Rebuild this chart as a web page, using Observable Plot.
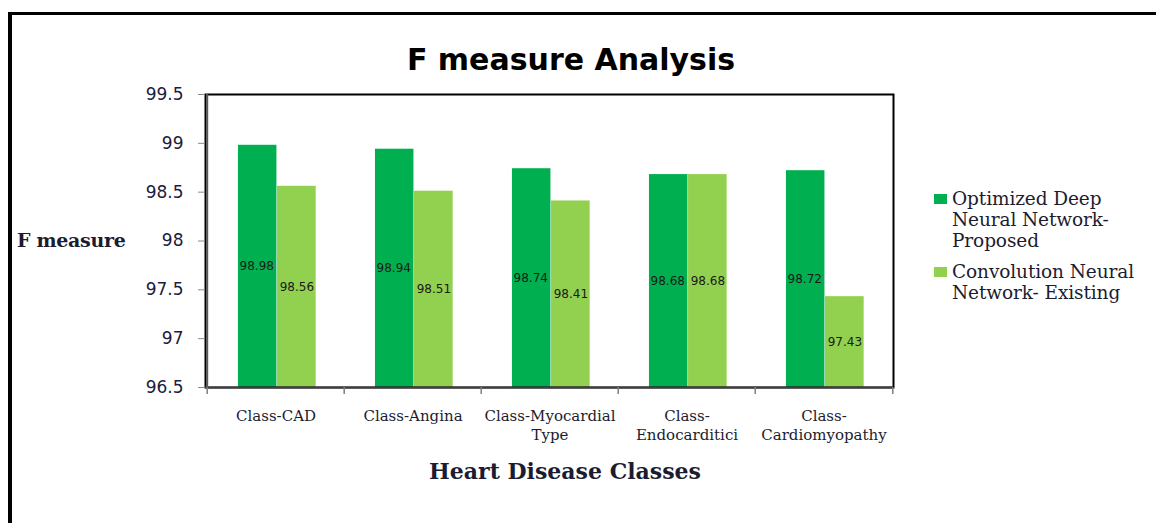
<!DOCTYPE html>
<html><head><meta charset="utf-8">
<script src="https://cdn.jsdelivr.net/npm/d3@7"></script>
<script src="https://cdn.jsdelivr.net/npm/@observablehq/plot@0.6"></script>
<style>
html,body{margin:0;padding:0;background:#fff;}
#wrap{position:relative;width:1156px;height:523px;overflow:hidden;}
#wrap svg{position:absolute;left:0;top:0;}
#border{position:absolute;left:8px;top:12px;width:1160px;height:520px;border-left:4px solid #000;border-top:3px solid #000;box-sizing:border-box;}
.title{position:absolute;left:0;width:1142px;top:42px;text-align:center;font:bold 30px "DejaVu Sans";color:#000;}
.ylab{position:absolute;left:17px;top:229px;font:bold 19px "DejaVu Serif";color:#1c1c30;white-space:nowrap;letter-spacing:-0.3px;}
.xlab{position:absolute;left:0;width:1130px;top:458px;text-align:center;font:bold 22px "DejaVu Serif";color:#1c1c30;}
.legend{position:absolute;left:934px;top:188px;font:18.5px "DejaVu Serif";color:#1c1c30;line-height:21px;letter-spacing:-0.1px;}
.item{display:flex;align-items:flex-start;margin-bottom:10px;}
.sw{width:13px;height:10px;margin-top:6px;margin-right:5px;flex:none;}
</style></head>
<body>
<div id="wrap"><div id="border"></div></div>
<script>
const categories = ["Class-CAD","Class-Angina","Class-Myocardial\nType","Class-\nEndocarditici","Class-\nCardiomyopathy"];
const proposed = [98.98, 98.94, 98.74, 98.68, 98.72];
const existing = [98.56, 98.51, 98.41, 98.68, 97.43];
const seriesNames = ["Optimized Deep\nNeural Network-\nProposed", "Convolution Neural\nNetwork- Existing"];
const colors = ["#00B050", "#92D050"];
const yTicks = [96.5, 97, 97.5, 98, 98.5, 99, 99.5];
const titleText = "F measure Analysis";
const yTitle = "F measure";
const xTitle = "Heart Disease Classes";

const W = 1156, H = 523, ml = 205, mr = 263, mt = 94, mb = 136;
const bw = (W - ml - mr) / categories.length;
const yMin = yTicks[0], yMax = yTicks[yTicks.length - 1];
const rows = categories.map((c, i) => ({cat: c, p: proposed[i], e: existing[i]}));

const chart = Plot.plot({
  width: W, height: H,
  marginLeft: ml, marginRight: mr, marginTop: mt, marginBottom: mb,
  style: {background: "transparent", fontFamily: "DejaVu Sans", overflow: "visible"},
  x: {domain: categories, padding: 0},
  y: {domain: [yMin, yMax]},
  marks: [
    Plot.barY(rows, {x: "cat", y1: yMin, y2: "p", fill: colors[0], insetLeft: 0.225 * bw, insetRight: 0.491 * bw}),
    Plot.barY(rows, {x: "cat", y1: yMin, y2: "e", fill: colors[1], insetLeft: 0.509 * bw, insetRight: 0.206 * bw}),
    Plot.text(rows, {x: "cat", y: d => (yMin + d.p) / 2, text: d => d.p.toFixed(2), dx: -0.14 * bw, fontSize: 12, fill: "#1a1a1a", fontFamily: "DejaVu Sans"}),
    Plot.text(rows, {x: "cat", y: d => (yMin + d.e) / 2, text: d => d.e.toFixed(2), dx: 0.1515 * bw, fontSize: 12, fill: "#1a1a1a", fontFamily: "DejaVu Sans"}),
    Plot.frame({stroke: "#000", strokeWidth: 2}),
    Plot.ruleY([yMin], {stroke: "#404040", strokeWidth: 2}),
    Plot.ruleX([categories[0]], {x: d => d, dx: -bw / 2, stroke: "#595959", strokeWidth: 2}),
    Plot.ruleX(categories, {x: d => d, y1: yMin, y2: yMin, insetBottom: -7, dx: -bw / 2, stroke: "#7f7f7f", strokeWidth: 1.5}),
    Plot.ruleX([categories[categories.length - 1]], {x: d => d, y1: yMin, y2: yMin, insetBottom: -7, dx: bw / 2, stroke: "#7f7f7f", strokeWidth: 1.5}),
    Plot.axisY({ticks: yTicks, tickFormat: d => String(d), tickSize: 7, tickPadding: 15, fontSize: 17, fontFamily: "DejaVu Sans", stroke: "#8a8a8a", fill: "#1c1c3c", label: null}),
    Plot.axisX({tickSize: 0, tickPadding: 20, fontSize: 15, fontFamily: "DejaVu Serif", fill: "#1c1c30", lineHeight: 1.25, label: null})
  ]
});
const wrap = document.getElementById("wrap");
wrap.appendChild(chart);

function addDiv(cls, text) {
  const d = document.createElement("div");
  d.className = cls; d.textContent = text; wrap.appendChild(d); return d;
}
addDiv("title", titleText);
addDiv("ylab", yTitle);
addDiv("xlab", xTitle);
const leg = addDiv("legend", "");
seriesNames.forEach((s, i) => {
  const it = document.createElement("div"); it.className = "item";
  const sw = document.createElement("div"); sw.className = "sw"; sw.style.background = colors[i];
  const tx = document.createElement("div"); tx.style.whiteSpace = "pre"; tx.textContent = s;
  it.appendChild(sw); it.appendChild(tx); leg.appendChild(it);
});
</script>
</body></html>
